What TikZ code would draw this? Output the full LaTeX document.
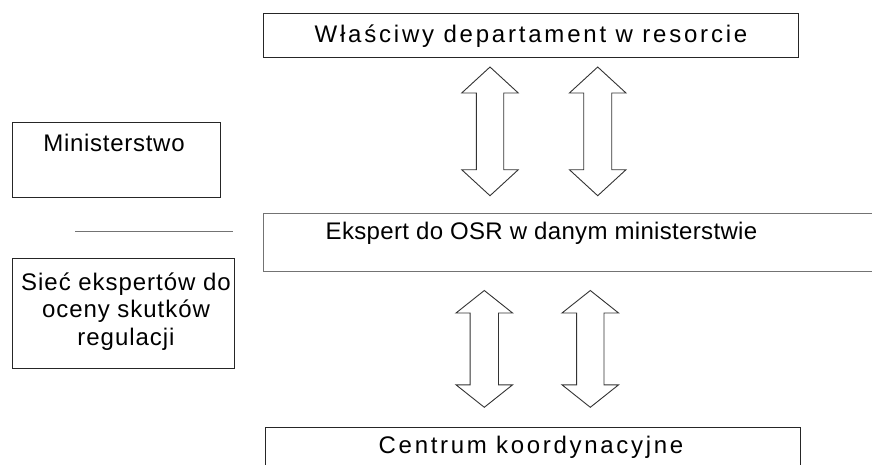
\documentclass[tikz,border=0pt]{standalone}
\usepackage{fontspec}
\setmainfont{Liberation Sans}
\usetikzlibrary{positioning,calc}

\newcommand{\lblsize}{\fontsize{24}{27.5}\selectfont}

\begin{document}
\begin{tikzpicture}[
  x=1pt,y=-1pt,
  box/.style={draw=black!85,line width=1pt,inner sep=0pt,anchor=north west},
  gbox/.style={box,draw=black!55,line width=1.6pt},
  txt/.style={anchor=base,inner sep=0pt,align=center},
  barrow/.style={draw=black!80,line width=0.9pt,line join=miter},
  sep/.style={draw=black!55,line width=1.2pt}
]
\useasboundingbox (0,0) rectangle (872,464);
\clip (0,0) rectangle (872,464);

% ---- boxes ----
\node[box,minimum width=535.6,minimum height=44]  (dept)    at (262.7,13)    {};
\node[gbox,minimum width=620,minimum height=58]   (ekspert) at (262.7,212.7) {};
\node[box,minimum width=535,minimum height=60]    (centrum) at (265,426.7)   {};
\node[box,minimum width=208.3,minimum height=75]  (min)     at (11.7,122.3)  {};
\node[box,minimum width=222,minimum height=109.4] (siec)    at (12,258.3)    {};

% ---- labels ----
\node[txt,font={\lblsize\addfontfeature{LetterSpace=11.6}}] (deptlbl) at (531,42) {Właściwy departament w resorcie};
\node[txt,font={\lblsize\addfontfeature{LetterSpace=1.4}}] (ekslbl) at (541.5,239.3) {Ekspert do OSR w danym ministerstwie};
\node[txt,font={\lblsize\addfontfeature{LetterSpace=11.2}}] (cenlbl) at (531,453.3) {Centrum koordynacyjne};
\node[txt,font={\lblsize\addfontfeature{LetterSpace=3}}] (minlbl) at (114,151.7) {Ministerstwo};
\node[txt,font={\lblsize\addfontfeature{LetterSpace=4}}] (sieclbl) at (126,345) {Sieć ekspertów do\\oceny skutków\\regulacji};

% separator
\coordinate (sepa) at (75,231.7);
\coordinate (sepb) at (233.3,231.7);
\draw[sep] (sepa) -- (sepb);

% ---- double block arrows ----
\foreach \cx/\ya/\yb/\h/\s in {490/67/195.7/26/13.7, 597.7/67/195.7/26/14,
                                484.3/290.5/407.3/22.5/14.2, 590.3/290.5/407.3/22.5/13.7}
  \draw[barrow] (\cx,\ya) -- (\cx+28.3,\ya+\h) -- (\cx+\s,\ya+\h) -- (\cx+\s,\yb-\h)
    -- (\cx+28.3,\yb-\h) -- (\cx,\yb) -- (\cx-28.3,\yb-\h) -- (\cx-\s,\yb-\h)
    -- (\cx-\s,\ya+\h) -- (\cx-28.3,\ya+\h) -- cycle;

\end{tikzpicture}
\end{document}
